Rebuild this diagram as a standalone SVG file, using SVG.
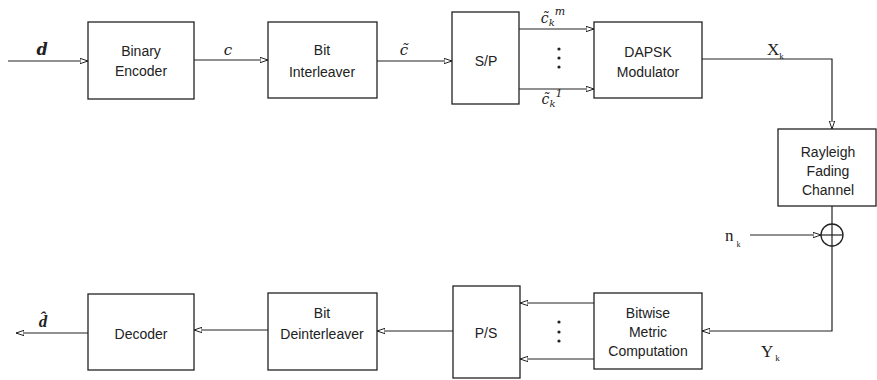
<svg xmlns="http://www.w3.org/2000/svg" width="877" height="380" viewBox="0 0 877 380">
<style>
.box{fill:#fff;stroke:#222;stroke-width:1.3}
.t{font-family:"Liberation Sans",Arial,sans-serif;font-size:14px;fill:#222;text-anchor:middle}
.m{font-family:"DejaVu Serif","Liberation Serif",serif;font-style:italic;fill:#222;text-anchor:middle}
.r{font-family:"Liberation Serif","Times New Roman",serif;fill:#222}
.ln{fill:none;stroke:#222;stroke-width:1.2}
.dot{fill:#222}
</style>
<defs>
<marker id="a" markerWidth="9" markerHeight="7" refX="8" refY="3.5" orient="auto" markerUnits="userSpaceOnUse">
<path d="M0,0.8 L8,3.5 L0,6.2 Z" fill="#fff" stroke="#222" stroke-width="1"/>
</marker>
</defs>
<rect width="877" height="380" fill="#fff"/>
<g id="connectors">
<line class="ln" x1="8" y1="61" x2="88" y2="61" marker-end="url(#a)"/>
<line class="ln" x1="194" y1="60" x2="268" y2="60" marker-end="url(#a)"/>
<line class="ln" x1="377" y1="61" x2="452" y2="61" marker-end="url(#a)"/>
<line class="ln" x1="519" y1="29" x2="594" y2="29" marker-end="url(#a)"/>
<line class="ln" x1="519" y1="89" x2="594" y2="89" marker-end="url(#a)"/>
<polyline class="ln" points="702,59 832,59 832,129" marker-end="url(#a)"/>
<line class="ln" x1="832" y1="206" x2="832" y2="224"/>
<line class="ln" x1="750" y1="235" x2="821" y2="235" marker-end="url(#a)"/>
<polyline class="ln" points="832,246 832,331 702,331" marker-end="url(#a)"/>
<line class="ln" x1="594" y1="303" x2="520" y2="303" marker-end="url(#a)"/>
<line class="ln" x1="594" y1="359" x2="520" y2="359" marker-end="url(#a)"/>
<line class="ln" x1="453" y1="331" x2="377" y2="331" marker-end="url(#a)"/>
<line class="ln" x1="268" y1="330" x2="194" y2="330" marker-end="url(#a)"/>
<line class="ln" x1="88" y1="333" x2="16" y2="333" marker-end="url(#a)"/>
</g>
<g id="labels">
<text class="m" x="42" y="55" font-size="16" font-weight="bold">d</text>
<text class="m" x="228" y="55" font-size="15">c</text>
<text class="m" x="404" y="55" font-size="15">c&#x303;</text>
<text class="m" x="553" y="23" font-size="14">c&#x303;<tspan font-size="10" dy="3">k</tspan><tspan font-size="11" dy="-11">m</tspan></text>
<text class="m" x="552" y="104" font-size="14">c&#x303;<tspan font-size="10" dy="3">k</tspan><tspan font-size="11" dy="-10">1</tspan></text>
<circle class="dot" cx="559" cy="49" r="1.6"/>
<circle class="dot" cx="559" cy="58" r="1.6"/>
<circle class="dot" cx="559" cy="67" r="1.6"/>
<text class="r" x="767" y="55" font-size="17">X<tspan font-size="9" dy="4">k</tspan></text>
<text class="r" x="725" y="241" font-size="17">n<tspan font-size="8" dy="6" dx="3">k</tspan></text>
<text class="r" x="761" y="357" font-size="17">Y<tspan font-size="9" dy="4" dx="2">k</tspan></text>
<circle class="dot" cx="559" cy="322" r="1.6"/>
<circle class="dot" cx="559" cy="332" r="1.6"/>
<circle class="dot" cx="559" cy="341" r="1.6"/>
<text x="43" y="327" font-size="17" font-weight="bold" style="font-family:'Liberation Serif',serif;font-style:italic;fill:#222;text-anchor:middle">d&#x302;</text>
</g>
<g id="binary-encoder"><rect class="box" x="88" y="22" width="106" height="77"/>
<text class="t" x="141" y="56">Binary</text><text class="t" x="141" y="76">Encoder</text></g>
<g id="bit-interleaver"><rect class="box" x="268" y="22" width="109" height="76"/>
<text class="t" x="322" y="55">Bit</text><text class="t" x="322" y="77">Interleaver</text></g>
<g id="sp"><rect class="box" x="452" y="12" width="67" height="92"/>
<text class="t" x="486" y="66" font-size="15">S/P</text></g>
<g id="dapsk"><rect class="box" x="594" y="22" width="108" height="76"/>
<text class="t" x="648" y="57">DAPSK</text><text class="t" x="648" y="77">Modulator</text></g>
<g id="rayleigh"><rect class="box" x="778" y="129" width="98" height="77"/>
<text class="t" x="828" y="157">Rayleigh</text><text class="t" x="828" y="176">Fading</text><text class="t" x="828" y="195">Channel</text></g>
<g id="adder"><circle cx="832" cy="235" r="11" fill="#fff" stroke="#222" stroke-width="1.3"/>
<line class="ln" x1="821" y1="235" x2="843" y2="235"/><line class="ln" x1="832" y1="224" x2="832" y2="246"/></g>
<g id="bitwise"><rect class="box" x="594" y="293" width="108" height="76"/>
<text class="t" x="648" y="318">Bitwise</text><text class="t" x="648" y="337">Metric</text><text class="t" x="648" y="356">Computation</text></g>
<g id="ps"><rect class="box" x="453" y="286" width="67" height="92"/>
<text class="t" x="486" y="338" font-size="15">P/S</text></g>
<g id="bit-deinterleaver"><rect class="box" x="268" y="293" width="109" height="77"/>
<text class="t" x="322" y="318">Bit</text><text class="t" x="322" y="339">Deinterleaver</text></g>
<g id="decoder"><rect class="box" x="88" y="294" width="106" height="76"/>
<text class="t" x="141" y="339">Decoder</text></g>
</svg>
